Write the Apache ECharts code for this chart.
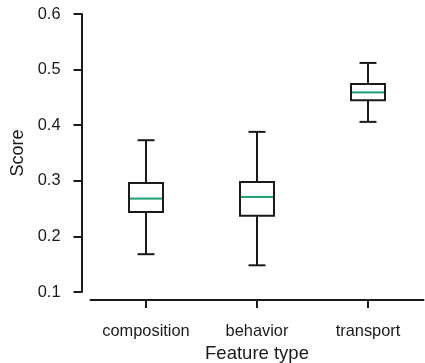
<!DOCTYPE html>
<html>
<head>
<meta charset="utf-8">
<script src="https://cdn.jsdelivr.net/npm/echarts@6/dist/echarts.min.js"></script>
<style>html,body{margin:0;padding:0;background:#fff;}#chart{width:425px;height:363px;}</style>
</head>
<body>
<div id="chart"></div>
<script>
const categories = ['composition', 'behavior', 'transport'];
const whiskerLow = [0.168, 0.148, 0.406];
const q1 = [0.244, 0.237, 0.445];
const median = [0.268, 0.271, 0.459];
const q3 = [0.296, 0.298, 0.474];
const whiskerHigh = [0.373, 0.388, 0.512];
const yTicks = [0.1, 0.2, 0.3, 0.4, 0.5, 0.6];

const data = categories.map((c, i) => [i, whiskerLow[i], q1[i], median[i], q3[i], whiskerHigh[i]]);

const ink = '#1a1a1a';
const green = '#1b9e77';
const font = 'Liberation Sans, Arial, sans-serif';

const chart = echarts.init(document.getElementById('chart'), null, {renderer: 'canvas'});
chart.setOption({
  animation: false,
  grid: {left: 90.5, right: 1.5, top: 14, bottom: 71, containLabel: false, outerBoundsMode: 'none'},
  xAxis: {
    type: 'category',
    data: categories,
    offset: 8,
    name: 'Feature type',
    nameLocation: 'middle',
    nameGap: 44,
    nameTextStyle: {color: ink, fontSize: 18.5, fontFamily: font},
    axisLine: {show: true, lineStyle: {color: ink, width: 2}},
    axisTick: {show: true, alignWithLabel: true, interval: 0, inside: false, length: 8, lineStyle: {color: ink, width: 2}},
    axisLabel: {color: ink, fontSize: 16.4, fontFamily: font, margin: 23, interval: 0, hideOverlap: false},
    splitLine: {show: false}
  },
  yAxis: {
    type: 'value',
    min: yTicks[0],
    max: yTicks[yTicks.length - 1],
    interval: 0.1,
    offset: 9,
    name: 'Score',
    nameLocation: 'middle',
    nameGap: 53,
    nameTextStyle: {color: ink, fontSize: 18, fontFamily: font},
    axisLine: {show: true, lineStyle: {color: ink, width: 2}},
    axisTick: {show: true, length: 8, lineStyle: {color: ink, width: 2}},
    axisLabel: {color: ink, fontSize: 16.4, fontFamily: font, margin: 21, formatter: v => v.toFixed(1)},
    splitLine: {show: false}
  },
  series: [{
    type: 'custom',
    data: data,
    encode: {x: 0, y: [1, 2, 3, 4, 5]},
    renderItem: function (params, api) {
      const x = api.value(0);
      const band = api.size([1, 0])[0];
      const bw = band * 0.306;
      const cw = bw / 2;
      const pLow = api.coord([x, api.value(1)]);
      const pQ1 = api.coord([x, api.value(2)]);
      const pMed = api.coord([x, api.value(3)]);
      const pQ3 = api.coord([x, api.value(4)]);
      const pHigh = api.coord([x, api.value(5)]);
      const cx = pLow[0];
      const ls = {stroke: ink, lineWidth: 2, fill: null};
      return {
        type: 'group',
        children: [
          {type: 'line', shape: {x1: cx, y1: pQ1[1], x2: cx, y2: pLow[1]}, style: ls},
          {type: 'line', shape: {x1: cx, y1: pQ3[1], x2: cx, y2: pHigh[1]}, style: ls},
          {type: 'line', shape: {x1: cx - cw / 2, y1: pLow[1], x2: cx + cw / 2, y2: pLow[1]}, style: ls},
          {type: 'line', shape: {x1: cx - cw / 2, y1: pHigh[1], x2: cx + cw / 2, y2: pHigh[1]}, style: ls},
          {type: 'rect', shape: {x: cx - bw / 2, y: pQ3[1], width: bw, height: pQ1[1] - pQ3[1]}, style: {stroke: ink, lineWidth: 2, fill: '#fff'}},
          {type: 'line', shape: {x1: cx - bw / 2 + 1, y1: pMed[1], x2: cx + bw / 2 - 1, y2: pMed[1]}, style: {stroke: green, lineWidth: 2}}
        ]
      };
    }
  }]
});
</script>
</body>
</html>
